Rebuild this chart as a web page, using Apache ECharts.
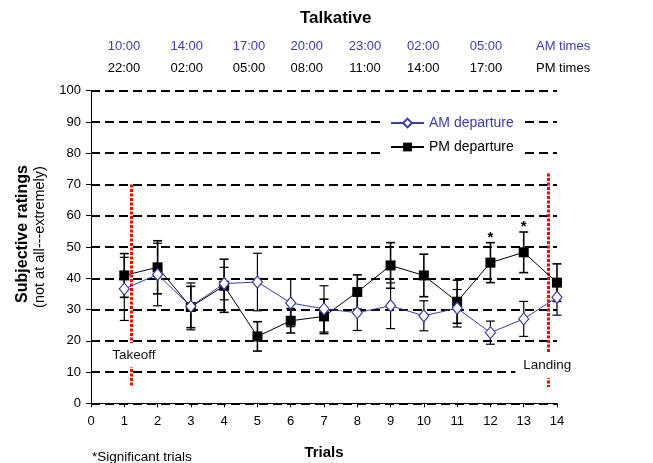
<!DOCTYPE html>
<html>
<head>
<meta charset="utf-8">
<script src="https://cdn.jsdelivr.net/npm/echarts@6/dist/echarts.min.js"></script>
<style>
  html,body{margin:0;padding:0;background:#fff;}
  #chart{width:653px;height:463px;}
</style>
</head>
<body>
<div id="chart"></div>
<script>
// trial numbers and mean ratings (+/- error)
const trials = [1, 2, 3, 4, 5, 6, 7, 8, 9, 10, 11, 12, 13, 14];
const amMean = [36.6, 41.2, 31.0, 38.3, 38.8, 32.1, 30.2, 29.0, 31.2, 28.0, 30.4, 22.6, 27.0, 33.9];
const amErr  = [10.1, 10.0, 7.5, 5.2, 9.2, 7.6, 7.4, 5.7, 7.3, 4.8, 6.0, 3.7, 5.6, 5.7];
const pmMean = [40.9, 43.5, 30.8, 37.6, 21.4, 26.4, 27.8, 35.6, 44.1, 40.9, 32.5, 45.0, 48.3, 38.6];
const pmErr  = [7.0, 8.5, 6.6, 8.5, 4.7, 3.9, 5.5, 5.5, 7.3, 6.8, 6.9, 6.4, 6.5, 6.0];
const sigTrials = [12, 13];

const amTimes = ['10:00', '14:00', '17:00', '20:00', '23:00', '02:00', '05:00'];
const pmTimes = ['22:00', '02:00', '05:00', '08:00', '11:00', '14:00', '17:00'];

// event markers: trial position, top and bottom rating of the red line
const takeoff = { trial: 1.2, top: 70, bottom: 5.2 };
const landing = { trial: 13.75, top: 73.5, bottom: 5.2 };

const FONT = '"Liberation Sans", Arial, sans-serif';
const BLUE = '#3c3cae';

// pixel layout of the time rows (not data)
const timeX = [124, 186.7, 249, 306.7, 365, 423.3, 486];

const chart = echarts.init(document.getElementById('chart'));

function errRender(lineW) {
  return function (params, api) {
    const x = api.value(0);
    const lo = api.coord([x, api.value(1)]);
    const hi = api.coord([x, api.value(2)]);
    const w = 4.5;
    const st = { stroke: '#000', lineWidth: lineW };
    const kids = [
      { type: 'line', shape: { x1: hi[0], y1: hi[1], x2: lo[0], y2: lo[1] }, style: st },
      { type: 'line', shape: { x1: hi[0] - w, y1: hi[1], x2: hi[0] + w, y2: hi[1] }, style: st },
      { type: 'line', shape: { x1: lo[0] - w, y1: lo[1], x2: lo[0] + w, y2: lo[1] }, style: st }
    ];
    if (api.value(3)) {
      kids.push({ type: 'text', style: { text: '*', x: hi[0], y: hi[1] - 5, align: 'center',
        verticalAlign: 'middle', font: 'bold 15px ' + FONT, fill: '#000' } });
    }
    return { type: 'group', children: kids };
  };
}

// white-boxed event labels, placed at a trial / rating position
function noteRender(params, api) {
  const p = api.coord([api.value(0), api.value(1)]);
  const pad = params.dataIndex === 0 ? [4, 2, 6, 2] : [3, 8, 9, 8];
  return {
    type: 'text', x: p[0], y: p[1],
    style: {
      text: params.dataIndex === 0 ? 'Takeoff' : 'Landing',
      align: 'center', verticalAlign: 'middle',
      font: '13.5px ' + FONT, fill: '#111', lineHeight: 14,
      backgroundColor: '#fff', padding: pad
    }
  };
}

const timeTexts = [];
amTimes.forEach((t, i) => {
  timeTexts.push({ type: 'text', x: timeX[i], y: 46, style: { text: t, align: 'center', verticalAlign: 'middle', font: '13px ' + FONT, fill: BLUE } });
  timeTexts.push({ type: 'text', x: timeX[i], y: 68, style: { text: pmTimes[i], align: 'center', verticalAlign: 'middle', font: '13px ' + FONT, fill: '#000' } });
});
timeTexts.push({ type: 'text', x: 536, y: 46, style: { text: 'AM times', verticalAlign: 'middle', font: '13px ' + FONT, fill: BLUE } });
timeTexts.push({ type: 'text', x: 536, y: 68, style: { text: 'PM times', verticalAlign: 'middle', font: '13px ' + FONT, fill: '#000' } });

const option = {
  animation: false,
  backgroundColor: '#fff',
  textStyle: { fontFamily: FONT },
  title: {
    text: 'Talkative', left: 295, top: 5,
    textStyle: { fontSize: 17, fontWeight: 'bold', color: '#000', fontFamily: FONT }
  },
  legend: {
    orient: 'vertical', left: 385, top: 111, padding: [5, 9, 4, 5],
    itemGap: 10, itemWidth: 33, itemHeight: 11,
    backgroundColor: '#fff',
    textStyle: { fontSize: 14, color: '#000', fontFamily: FONT },
    data: [
      { name: 'AM departure', textStyle: { color: BLUE } },
      { name: 'PM departure' }
    ]
  },
  grid: { left: 91, right: 96, top: 90.7, bottom: 59.7 },
  xAxis: {
    type: 'value', min: 0, max: 14, interval: 1,
    axisLine: { lineStyle: { color: '#000', width: 1 } },
    axisTick: { length: 4, lineStyle: { color: '#000' } },
    axisLabel: { margin: 12, fontSize: 13, color: '#000', fontFamily: FONT },
    splitLine: { show: false }
  },
  yAxis: {
    type: 'value', min: 0, max: 100, interval: 10,
    axisLine: { show: true, lineStyle: { color: '#000', width: 1 } },
    axisTick: { show: true, length: 5, lineStyle: { color: '#000' } },
    axisLabel: { margin: 10, fontSize: 13, color: '#000', fontFamily: FONT },
    splitLine: { lineStyle: { color: '#000', width: 2, type: [9, 5] } }
  },
  graphic: timeTexts.concat([
    { type: 'text', x: 23, y: 234, rotation: Math.PI / 2,
      style: { text: 'Subjective ratings', align: 'center', verticalAlign: 'middle', font: 'bold 16px ' + FONT, fill: '#000' } },
    { type: 'text', x: 40, y: 237, rotation: Math.PI / 2,
      style: { text: '(not at all---extremely)', align: 'center', verticalAlign: 'middle', font: '14.5px ' + FONT, fill: '#000' } },
    { type: 'text', x: 324, y: 453,
      style: { text: 'Trials', align: 'center', verticalAlign: 'middle', font: 'bold 15px ' + FONT, fill: '#000' } },
    { type: 'text', x: 92, y: 457,
      style: { text: '*Significant trials', verticalAlign: 'middle', font: '13.5px ' + FONT, fill: '#000' } }
  ]),
  series: [
    {
      name: 'events', type: 'line', data: [], z: 3, silent: true,
      markLine: {
        symbol: ['none', 'none'], silent: true, label: { show: false },
        lineStyle: { color: '#ff0000', width: 3, type: [3, 1.5] },
        data: [
          [{ coord: [takeoff.trial, takeoff.top] }, { coord: [takeoff.trial, takeoff.bottom] }],
          [{ coord: [landing.trial, landing.top] }, { coord: [landing.trial, landing.bottom] }]
        ]
      }
    },
    {
      name: 'amErr', type: 'custom', z: 4, silent: true,
      renderItem: errRender(1.2),
      encode: { x: 0, y: [1, 2] },
      data: trials.map((t, i) => [t, amMean[i] - amErr[i], amMean[i] + amErr[i], 0])
    },
    {
      name: 'pmErr', type: 'custom', z: 4, silent: true,
      renderItem: errRender(1.6),
      encode: { x: 0, y: [1, 2] },
      data: trials.map((t, i) => [t, pmMean[i] - pmErr[i], pmMean[i] + pmErr[i], sigTrials.includes(t) ? 1 : 0])
    },
    {
      name: 'PM departure', type: 'line', z: 5,
      data: trials.map((t, i) => [t, pmMean[i]]),
      symbol: 'rect', symbolSize: 10,
      itemStyle: { color: '#000' },
      lineStyle: { color: '#000', width: 1 }
    },
    {
      name: 'AM departure', type: 'line', z: 6,
      data: trials.map((t, i) => [t, amMean[i]]),
      symbol: 'diamond', symbolSize: [10, 12],
      itemStyle: { color: '#fff', borderColor: BLUE, borderWidth: 1.2 },
      lineStyle: { color: BLUE, width: 1 }
    },
    {
      name: 'notes', type: 'custom', z: 10, silent: true,
      renderItem: noteRender,
      encode: { x: 0, y: 1 },
      data: [[1.29, 15.45], [13.71, 12.2]]
    }
  ]
};

chart.setOption(option);
</script>
</body>
</html>
